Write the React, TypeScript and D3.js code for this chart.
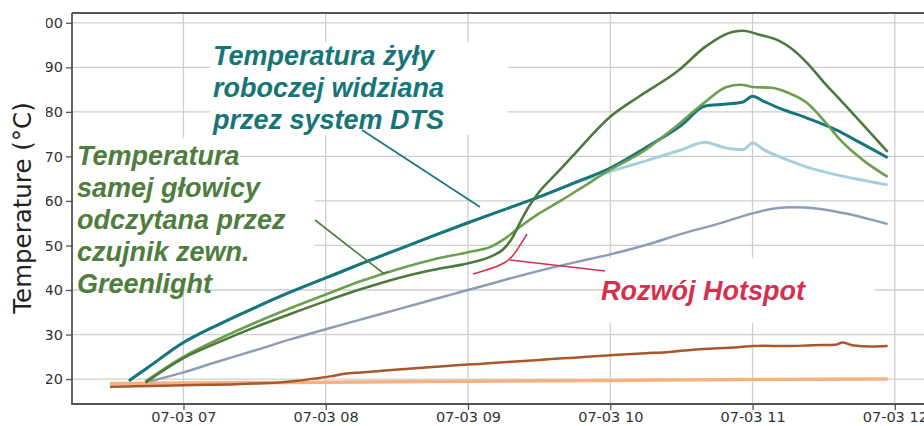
import * as d3 from "d3";
import { useEffect, useRef } from "react";

// day of the measurement, all times below are on this day
const DAY = "2023-07-03";

const yTicks = [20, 30, 40, 50, 60, 70, 80, 90, 100];
const xTicks = ["07:00", "08:00", "09:00", "10:00", "11:00", "12:00"];

// ambient / reference (light orange)
const ambient: [string, number][] = [
    ["06:29", 19.0], ["07:00", 19.1], ["08:00", 19.3], ["09:00", 19.5],
    ["10:00", 19.7], ["11:00", 19.9], ["11:57", 20.0],
];

// brown, slowly rising
const brown: [string, number][] = [
    ["06:29", 18.3], ["06:40", 18.4], ["06:50", 18.5], ["07:00", 18.6], ["07:10", 18.7],
    ["07:20", 18.8], ["07:30", 19.0], ["07:40", 19.2], ["07:48", 19.6], ["07:55", 20.1],
    ["08:02", 20.6], ["08:08", 21.2], ["08:15", 21.5], ["08:25", 21.9], ["08:35", 22.3],
    ["08:45", 22.7], ["08:55", 23.1], ["09:05", 23.4], ["09:15", 23.8], ["09:25", 24.1],
    ["09:35", 24.5], ["09:45", 24.8], ["09:55", 25.2], ["10:05", 25.5], ["10:15", 25.8],
    ["10:25", 26.1], ["10:35", 26.6], ["10:45", 26.9], ["10:55", 27.2], ["11:00", 27.4],
    ["11:05", 27.5], ["11:15", 27.4], ["11:25", 27.6], ["11:35", 27.7], ["11:38", 28.2],
    ["11:42", 27.6], ["11:50", 27.3], ["11:57", 27.4],
];

// grey-blue
const grey: [string, number][] = [
    ["06:46", 19.5], ["07:00", 21.5], ["07:15", 24.0], ["07:30", 26.4], ["07:45", 28.9],
    ["08:00", 31.2], ["08:15", 33.4], ["08:30", 35.6], ["08:45", 37.8], ["09:00", 40.0],
    ["09:15", 42.2], ["09:30", 44.3], ["09:45", 46.2], ["10:00", 48.0], ["10:15", 50.1],
    ["10:30", 52.6], ["10:45", 54.8], ["11:00", 57.2], ["11:08", 58.2], ["11:15", 58.6],
    ["11:22", 58.5], ["11:30", 58.1], ["11:40", 57.1], ["11:50", 55.8], ["11:57", 54.8],
];

// DTS conductor temperature (dark teal)
const dts: [string, number][] = [
    ["06:37", 19.6], ["06:45", 22.6], ["07:00", 28.2], ["07:15", 32.3], ["07:30", 36.0],
    ["07:45", 39.5], ["08:00", 42.7], ["08:15", 45.9], ["08:30", 49.0], ["08:45", 52.1],
    ["09:00", 55.1], ["09:15", 58.0], ["09:30", 60.9], ["09:45", 64.1], ["10:00", 67.4],
    ["10:15", 72.0], ["10:30", 77.0], ["10:40", 81.3], ["10:48", 81.7], ["10:56", 82.2],
    ["11:00", 83.5], ["11:05", 82.3], ["11:11", 80.9], ["11:23", 78.6], ["11:35", 76.0],
    ["11:45", 73.2], ["11:57", 69.7],
];

// light blue
const lightBlue: [string, number][] = [
    ["06:37", 19.6], ["06:45", 22.6], ["07:00", 28.2], ["07:15", 32.3], ["07:30", 36.0],
    ["07:45", 39.5], ["08:00", 42.7], ["08:15", 45.9], ["08:30", 49.0], ["08:45", 52.1],
    ["09:00", 55.1], ["09:15", 58.0], ["09:30", 60.9], ["09:45", 64.0], ["10:00", 66.6],
    ["10:15", 69.0], ["10:30", 71.5], ["10:40", 73.2], ["10:48", 72.0], ["10:56", 71.5],
    ["11:00", 73.0], ["11:05", 71.4], ["11:11", 70.0], ["11:23", 67.6], ["11:35", 65.9],
    ["11:45", 64.8], ["11:57", 63.6],
];

// light green
const lightGreen: [string, number][] = [
    ["06:44", 19.5], ["07:00", 25.0], ["07:15", 29.0], ["07:30", 32.6], ["07:45", 35.9],
    ["08:00", 39.0], ["08:15", 42.0], ["08:30", 44.6], ["08:45", 46.8], ["09:00", 48.5],
    ["09:10", 49.8], ["09:16", 51.7], ["09:22", 54.2], ["09:30", 57.2], ["09:39", 60.0],
    ["09:48", 63.0], ["10:00", 67.0], ["10:15", 71.5], ["10:26", 76.0], ["10:40", 82.2],
    ["10:49", 85.6], ["10:55", 86.1], ["11:00", 85.6], ["11:08", 85.4], ["11:15", 84.3],
    ["11:23", 82.0], ["11:31", 77.5], ["11:37", 73.7], ["11:47", 69.0], ["11:57", 65.4],
];

// dark green (Greenlight head sensor)
const darkGreen: [string, number][] = [
    ["06:44", 19.2], ["07:00", 24.7], ["07:15", 28.3], ["07:30", 31.6], ["07:45", 34.6],
    ["08:00", 37.5], ["08:15", 40.2], ["08:30", 42.6], ["08:45", 44.5], ["09:00", 46.0],
    ["09:10", 47.6], ["09:15", 49.2], ["09:19", 52.0], ["09:22", 55.2], ["09:26", 59.0],
    ["09:30", 62.0], ["09:37", 66.0], ["09:44", 70.0], ["10:00", 78.9], ["10:12", 83.4],
    ["10:29", 89.4], ["10:40", 94.6], ["10:52", 98.0], ["10:56", 98.2], ["11:03", 97.3],
    ["11:11", 96.0], ["11:16", 94.4], ["11:23", 91.0], ["11:30", 86.7], ["11:37", 82.7],
    ["11:57", 71.0],
];

const W = 924;
const H = 426;

export default function App() {
    const ref = useRef<SVGSVGElement>(null);

    useEffect(() => {
        const svg = d3.select(ref.current);
        svg.selectAll("*").remove();

        const parse = d3.timeParse("%Y-%m-%d %H:%M");
        const at = (s: string) => parse(`${DAY} ${s}`)!;

        const left = 72, right = 928, top = 13, bottom = 404;

        const x = d3.scaleTime().domain([at("06:13"), at("12:14")]).range([left, right]);
        const y = d3.scaleLinear().domain([14.4, 102.2]).range([bottom, top]);

        const tickFont = "DejaVu Sans, sans-serif";

        // grid
        const grid = svg.append("g").attr("stroke", "#cfcfcf").attr("stroke-width", 1.3);
        grid.selectAll("line.h")
            .data(yTicks)
            .join("line")
            .attr("x1", left).attr("x2", right)
            .attr("y1", (d) => y(d)).attr("y2", (d) => y(d));
        grid.selectAll("line.v")
            .data(xTicks)
            .join("line")
            .attr("x1", (d) => x(at(d))).attr("x2", (d) => x(at(d)))
            .attr("y1", top).attr("y2", bottom);

        // white boxes behind the text annotations (they hide the grid)
        const boxes = [
            [210, 42, 298, 93],
            [74, 138, 166, 34],
            [74, 172, 241, 115],
            [605, 258, 270, 65],
        ];
        svg.append("g")
            .selectAll("rect")
            .data(boxes)
            .join("rect")
            .attr("x", (d) => d[0]).attr("y", (d) => d[1])
            .attr("width", (d) => d[2]).attr("height", (d) => d[3])
            .attr("fill", "#fff");

        // series
        const series = [
            { data: ambient, color: "#f5b27f", width: 3.5 },
            { data: brown, color: "#a8582b", width: 2.5 },
            { data: grey, color: "#8e9db6", width: 2.5 },
            { data: lightBlue, color: "#a5d0dc", width: 3 },
            { data: dts, color: "#18757c", width: 3 },
            { data: lightGreen, color: "#6c9f4f", width: 2.6 },
            { data: darkGreen, color: "#4c7a3b", width: 2.6 },
        ];

        const line = d3.line<[string, number]>()
            .x((d) => x(at(d[0])))
            .y((d) => y(d[1]))
            .curve(d3.curveMonotoneX);

        svg.append("g")
            .selectAll("path")
            .data(series)
            .join("path")
            .attr("fill", "none")
            .attr("stroke", (d) => d.color)
            .attr("stroke-width", (d) => d.width)
            .attr("stroke-linejoin", "round")
            .attr("d", (d) => line(d.data)!);

        // axes (the picture is cropped on the left, so "100" shows as "00")
        svg.append("defs").append("clipPath").attr("id", "yclip")
            .append("rect").attr("x", 46 - left).attr("y", 0).attr("width", W).attr("height", H);

        const yAxis = svg.append("g")
            .attr("transform", `translate(${left},0)`)
            .attr("clip-path", "url(#yclip)")
            .call(d3.axisLeft(y).tickValues(yTicks).tickSize(6).tickPadding(3).tickFormat(d3.format("d")));
        yAxis.select(".domain").remove();

        const xAxis = svg.append("g")
            .attr("transform", `translate(0,${bottom})`)
            .call(d3.axisBottom(x).tickValues(xTicks.map(at)).tickSize(6).tickPadding(2)
                .tickFormat((d) => d3.timeFormat("%m-%d %H")(d as Date)));
        xAxis.select(".domain").remove();

        for (const ax of [yAxis, xAxis]) {
            ax.selectAll("text").attr("font-family", tickFont).attr("font-size", 14.5).attr("fill", "#333");
            ax.selectAll(".tick line").attr("stroke", "#555").attr("stroke-width", 1.3);
        }

        // frame
        svg.append("path")
            .attr("d", `M${left},${top}H${right}M${left},${top}V${bottom}H${right}`)
            .attr("fill", "none")
            .attr("stroke", "#555")
            .attr("stroke-width", 1.8);

        svg.append("text")
            .attr("transform", `translate(31,208) rotate(-90)`)
            .attr("text-anchor", "middle")
            .attr("font-family", tickFont)
            .attr("font-size", 24.5)
            .attr("fill", "#222")
            .text("Temperature (°C)");

        // annotations
        const noteFont = "Liberation Sans, Arial, sans-serif";
        const note = (lines: string[], x0: number, y0: number, color: string) => {
            const t = svg.append("text")
                .attr("font-family", noteFont)
                .attr("font-size", 27)
                .attr("font-weight", "bold")
                .attr("font-style", "italic")
                .attr("fill", color);
            lines.forEach((s, i) => {
                t.append("tspan").attr("x", x0).attr("y", y0 + i * 32).text(s);
            });
        };

        const leader = (pts: [number, number][], color: string, curve = false) => {
            const g = d3.line().curve(curve ? d3.curveBasis : d3.curveLinear);
            svg.append("path")
                .attr("d", g(pts)!)
                .attr("fill", "none")
                .attr("stroke", color)
                .attr("stroke-width", 1.6);
        };

        const teal = "#177479";
        const green = "#4f7d3e";
        const red = "#d7304f";

        leader([[362, 130], [480, 207]], teal);
        leader([[315, 220], [383, 273], [389, 272]], green);
        leader([[473, 274], [500, 266], [511, 259], [519, 247], [527, 234]], red, true);
        leader([[510, 260], [605, 271]], red);

        note(["Temperatura żyły", "roboczej widziana", "przez system DTS"], 213, 65, teal);
        note(["Temperatura", "samej głowicy", "odczytana przez", "czujnik zewn.", "Greenlight"], 77, 165, green);
        note(["Rozwój Hotspot"], 601, 300, red);
    }, []);

    return (
        <svg
            ref={ref}
            width={W}
            height={H}
            style={{ position: "absolute", left: 0, top: 0, background: "#fff" }}
        />
    );
}
